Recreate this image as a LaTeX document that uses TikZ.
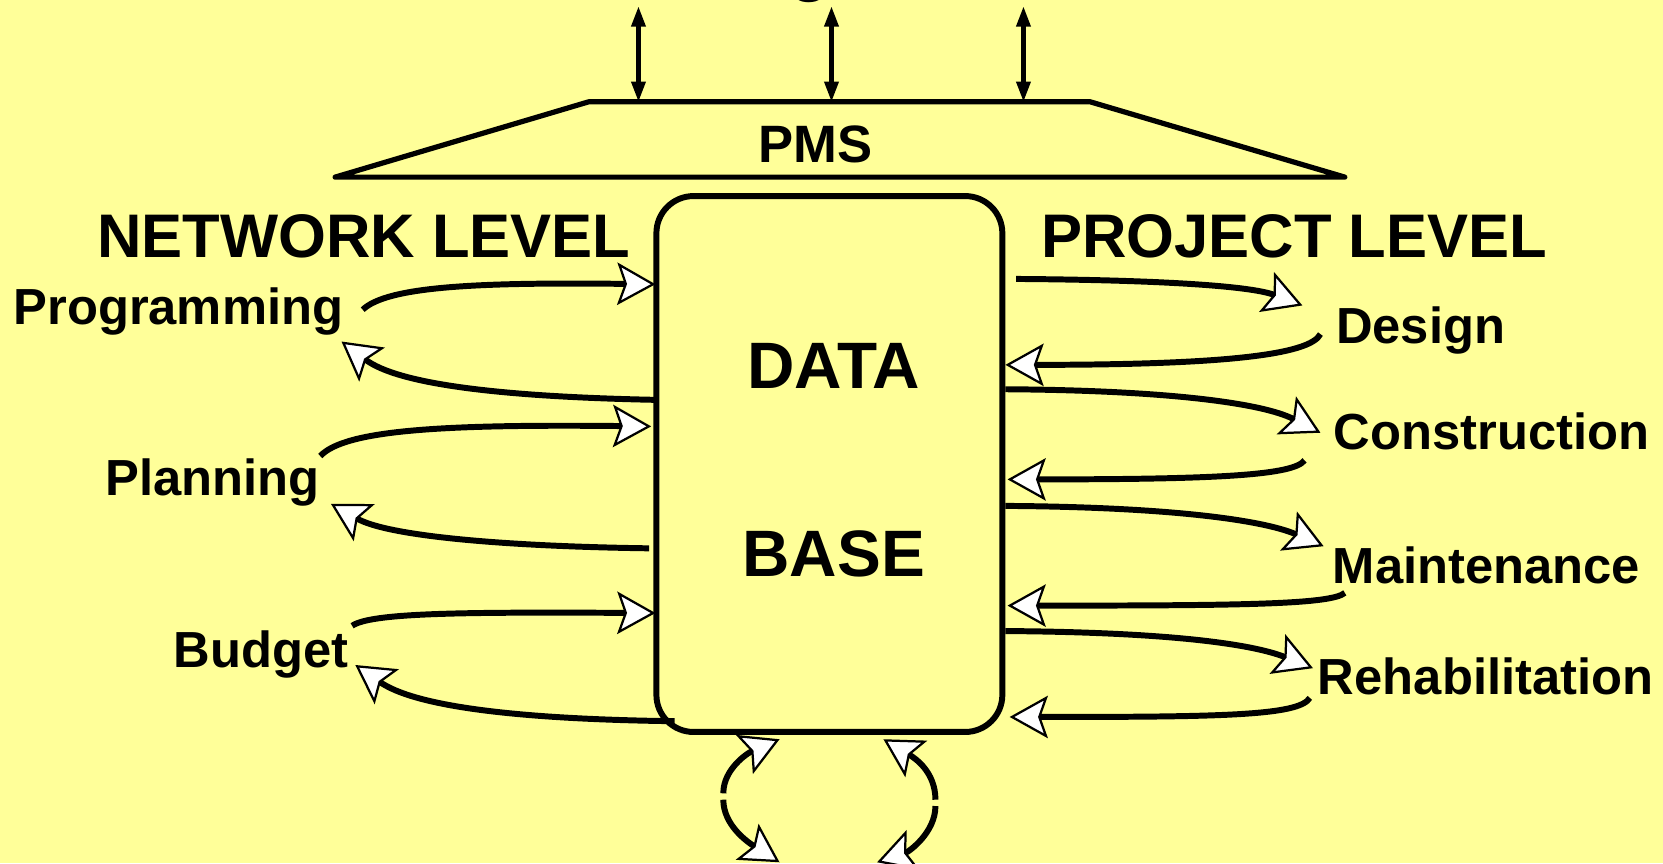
\documentclass[tikz,border=0pt]{standalone}
\usepackage{fontspec}
\setmainfont{Liberation Sans}
\usetikzlibrary{arrows.meta}
\definecolor{bgyellow}{HTML}{FFFF99}
\tikzset{
  oh/.tip={Stealth[length=0.36cm,width=0.40cm,inset=0.07cm,fill=white,line width=0.6pt]},
  bh/.tip={Triangle[length=0.19cm,width=0.13cm]},
  flow/.style={line width=1.6pt,-oh},
  updown/.style={line width=1.1pt,bh-bh},
  lbl/.style={font=\fontsize{13.6}{16}\selectfont\bfseries,inner sep=0pt,anchor=base west},
  lvl/.style={font=\fontsize{16.5}{19}\selectfont\bfseries,inner sep=0pt,anchor=base west},
  big/.style={font=\fontsize{17.6}{20}\selectfont\bfseries,inner sep=0pt,anchor=base},
  dbbox/.style={draw,line width=1.6pt,rounded corners=0.35cm,minimum width=3.26cm,minimum height=5.05cm,inner sep=0pt},
}
\begin{document}
\begin{tikzpicture}[x=0.01cm,y=-0.01cm]
\useasboundingbox (0,0) rectangle (1568,814);
\fill[bgyellow] (0,0) rectangle (1568,814);

% cut-off title fragment
\node[font=\fontsize{18}{20}\selectfont\bfseries,inner sep=0pt,anchor=base] (title) at (764,-10.5) {g};

% PMS trapezoid
\coordinate (tl) at (555,96);
\coordinate (tr) at (1028,96);
\coordinate (br) at (1268,167);
\coordinate (bl) at (316,167);
\draw[line width=1.4pt,line join=round,line cap=round] (tl) -- (tr) -- (br) -- (bl) -- cycle;
\node[font=\fontsize{14.1}{16}\selectfont\bfseries,inner sep=0pt,anchor=base] (pms) at (769,153) {PMS};

% top double arrows
\coordinate (u1) at (602,6);  \coordinate (d1) at (602,96);
\coordinate (u2) at (784,6);  \coordinate (d2) at (784,96);
\coordinate (u3) at (965,6);  \coordinate (d3) at (965,96);
\draw[updown] (u1) -- (d1);
\draw[updown] (u2) -- (d2);
\draw[updown] (u3) -- (d3);

% data base
\node[dbbox] (db) at (782,437.5) {};
\node[big] (data) at (786,366) {DATA};
\node[big] (base) at (786,544) {BASE};

% level titles
\node[lvl] (net) at (91,243) {NETWORK LEVEL};
\node[lvl] (proj) at (981,243) {PROJECT LEVEL};

% left labels
\node[lbl] (prog) at (12,306) {Programming};
\node[lbl] (plan) at (99,467) {Planning};
\node[lbl] (budg) at (163,629) {Budget};

% right labels
\node[lbl] (des) at (1259,324) {Design};
\node[lbl] (con) at (1257,424) {Construction};
\node[lbl] (mai) at (1256,550) {Maintenance};
\node[lbl] (reh) at (1242,655) {Rehabilitation};

% left connector ends
\coordinate (p1) at (342,292);  \coordinate (q1) at (618,268);
\coordinate (p2) at (618,377);  \coordinate (q2) at (322,322);
\coordinate (p3) at (302,430);  \coordinate (q3) at (614,402);
\coordinate (p4) at (612,517);  \coordinate (q4) at (312,475);
\coordinate (p5) at (332,590);  \coordinate (q5) at (618,578);
\coordinate (p6) at (636,680);  \coordinate (q6) at (335,627);

\draw[flow] (p1) .. controls (365,270) and (450,266) .. (q1);
\draw[flow] (p2) .. controls (470,374) and (375,362) .. (q2);
\draw[flow] (p3) .. controls (325,405) and (420,400) .. (q3);
\draw[flow] (p4) .. controls (470,515) and (365,505) .. (q4);
\draw[flow] (p5) .. controls (350,578) and (430,577) .. (q5);
\draw[flow] (p6) .. controls (480,678) and (390,665) .. (q6);

% right connector ends
\coordinate (r1) at (958,263);   \coordinate (s1) at (1228,288);
\coordinate (r2) at (1245,315);  \coordinate (s2) at (948,344);
\coordinate (r3) at (948,367);   \coordinate (s3) at (1245,408);
\coordinate (r4) at (1230,434);  \coordinate (s4) at (950,452);
\coordinate (r5) at (948,477);   \coordinate (s5) at (1248,515);
\coordinate (r6) at (1268,559);  \coordinate (s6) at (950,571);
\coordinate (r7) at (948,595);   \coordinate (s7) at (1238,630);
\coordinate (r8) at (1235,658);  \coordinate (s8) at (952,676);

\draw[flow] (r1) .. controls (1100,264) and (1180,270) .. (s1);
\draw[flow] (r2) .. controls (1235,335) and (1150,344) .. (s2);
\draw[flow] (r3) .. controls (1100,368) and (1190,380) .. (s3);
\draw[flow] (r4) .. controls (1220,448) and (1150,452) .. (s4);
\draw[flow] (r5) .. controls (1100,478) and (1190,490) .. (s5);
\draw[flow] (r6) .. controls (1255,570) and (1170,571) .. (s6);
\draw[flow] (r7) .. controls (1100,596) and (1180,607) .. (s7);
\draw[flow] (r8) .. controls (1225,675) and (1150,676) .. (s8);

% bottom loops
\coordinate (m1a) at (682,748); \coordinate (m1b) at (682,754);
\coordinate (m2a) at (882,754); \coordinate (m2b) at (882,760);
\coordinate (t1) at (735,697);  \coordinate (t2) at (735,813);
\coordinate (t3) at (833,697);  \coordinate (t4) at (827,813);
\draw[flow] (m1a) .. controls (682,725) and (705,710) .. (t1);
\draw[flow] (m1b) .. controls (682,778) and (705,794) .. (t2);
\draw[flow] (m2a) .. controls (882,728) and (863,715) .. (t3);
\draw[flow] (m2b) .. controls (882,785) and (857,803) .. (t4);
\end{tikzpicture}
\end{document}
